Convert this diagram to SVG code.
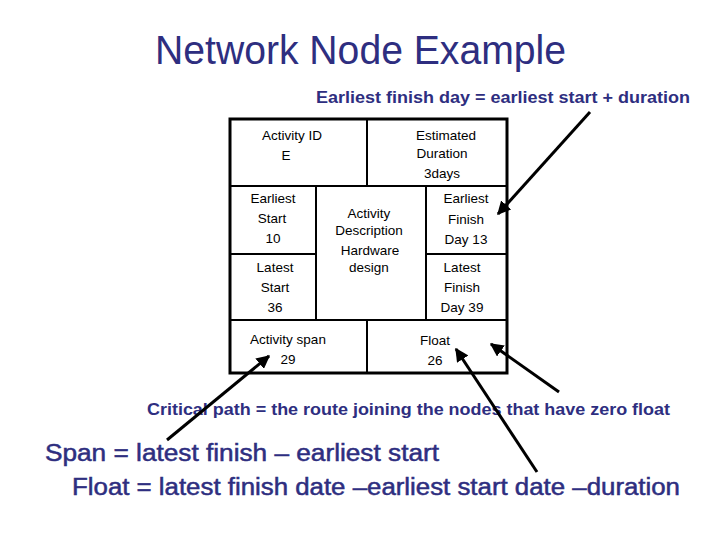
<svg xmlns="http://www.w3.org/2000/svg" width="720" height="540" viewBox="0 0 720 540">
<defs><marker id="ah" viewBox="0 0 10 10" refX="9" refY="5" markerWidth="4.5" markerHeight="4.5" orient="auto"><path d="M0,0L10,5L0,10z" fill="#000"/></marker></defs>
<style>
.t{font-family:"Liberation Sans",Arial,sans-serif;fill:#000;font-size:13.5px;text-anchor:middle}
.b{font-family:"Liberation Sans",Arial,sans-serif;fill:#2e2e80;font-weight:bold}
.n{font-family:"Liberation Sans",Arial,sans-serif;fill:#2e2e80}
.l{stroke:#000;stroke-width:2;fill:none}
.a{stroke:#000;stroke-width:3;marker-end:url(#ah)}
</style>
<rect width="720" height="540" fill="#fff"/>
<text class="n" x="155" y="64" font-size="40" textLength="411" lengthAdjust="spacingAndGlyphs">Network Node Example</text>
<text class="b" x="316" y="103" font-size="16" textLength="374" lengthAdjust="spacingAndGlyphs">Earliest finish day = earliest start + duration</text>
<g id="node">
<rect x="230" y="119" width="277" height="254" fill="none" stroke="#000" stroke-width="3"/>
<path class="l" d="M367,119V186M230,186H507M316,186V320M426,186V320M230,254H316M426,254H507M230,320H507M367,320V373"/>
<text class="t" x="292" y="140">Activity ID</text><text class="t" x="286" y="160">E</text>
<text class="t" x="446" y="140">Estimated</text><text class="t" x="442" y="158">Duration</text><text class="t" x="442" y="178">3days</text>
<text class="t" x="273" y="203">Earliest</text><text class="t" x="272" y="223">Start</text><text class="t" x="273" y="243">10</text>
<text class="t" x="275" y="272">Latest</text><text class="t" x="275" y="292">Start</text><text class="t" x="275" y="312">36</text>
<text class="t" x="369" y="218">Activity</text><text class="t" x="369" y="235">Description</text><text class="t" x="370" y="255">Hardware</text><text class="t" x="369" y="272">design</text>
<text class="t" x="466" y="203">Earliest</text><text class="t" x="466" y="224">Finish</text><text class="t" x="466" y="244">Day 13</text>
<text class="t" x="462" y="272">Latest</text><text class="t" x="462" y="292">Finish</text><text class="t" x="462" y="312">Day 39</text>
<text class="t" x="288" y="344">Activity span</text><text class="t" x="288" y="364">29</text>
<text class="t" x="435" y="345">Float</text><text class="t" x="435" y="365">26</text>
</g>
<text class="b" x="147" y="415" font-size="16" textLength="523" lengthAdjust="spacingAndGlyphs">Critical path = the route joining the nodes that have zero float</text>
<text class="n" x="45" y="461" font-size="23" textLength="394" lengthAdjust="spacingAndGlyphs" stroke="#2e2e80" stroke-width="0.5">Span =  latest finish – earliest start</text>
<text class="n" x="72" y="495" font-size="23" textLength="608" lengthAdjust="spacingAndGlyphs" stroke="#2e2e80" stroke-width="0.5">Float = latest finish date –earliest start date –duration</text>
<g id="connectors">
<line class="a" x1="590" y1="112" x2="498" y2="214"/>
<line class="a" x1="167" y1="440" x2="269" y2="356"/>
<line class="a" x1="559" y1="392" x2="491" y2="344"/>
<line class="a" x1="537" y1="472" x2="456" y2="349"/>
</g>
</svg>
